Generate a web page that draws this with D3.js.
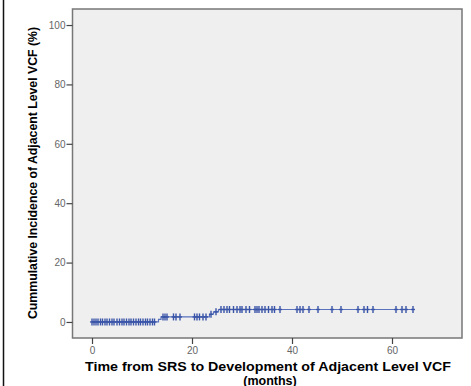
<!DOCTYPE html>
<html>
<head>
<meta charset="utf-8">
<script src="https://cdn.jsdelivr.net/npm/d3@7"></script>
<style>
  body { margin: 0; background: #fff; }
  svg { display: block; }
</style>
</head>
<body>
<div id="chart"></div>
<script>
// cumulative incidence steps (month, %)
const eventTimes = [0, 13.3, 13.8, 23.5, 24.3, 25.3];
const eventIncidence = [0, 0.9, 1.7, 2.6, 3.4, 4.2];
const lastFollowUp = 64.2;

// censored observations (months)
const censorTimes = [
  0, 0.4, 0.8, 1.2, 1.7, 2.1, 2.6, 3.0, 3.5, 4.0, 4.4, 5.0, 5.5, 6.0, 6.4, 6.9,
  7.4, 7.8, 8.3, 8.8, 9.3, 9.7, 10.2, 10.7, 11.1, 11.6, 12.1, 12.5,
  14.2, 14.6, 15.0, 16.3, 16.8, 17.6, 20.5, 21.0, 21.5, 22.2, 22.8,
  23.8, 24.8,
  25.8, 26.4, 27.0, 27.5, 28.3, 29.0, 29.6, 30.0, 30.8, 31.5, 32.6, 33.0, 33.4,
  34.0, 34.6, 35.3, 36.0, 36.5, 37.6, 41.0, 41.6, 42.2, 43.4, 45.2, 48.0, 49.8,
  53.2, 54.4, 55.1, 56.2, 60.8, 62.0, 62.8, 64.2
];

const xTicks = [0, 20, 40, 60];
const yTicks = [0, 20, 40, 60, 80, 100];

const width = 471, height = 386;
const margin = { top: 9, right: 9, bottom: 48, left: 72.5 };

const svg = d3.select('#chart').append('svg')
  .attr('width', width)
  .attr('height', height);

// outer frame line on the left
svg.append('line')
  .attr('x1', 3.5).attr('x2', 3.5)
  .attr('y1', 0).attr('y2', height)
  .attr('stroke', '#111').attr('stroke-width', 1.5);

const x = d3.scaleLinear()
  .domain([-3.9, 74])
  .range([margin.left, width - margin.right]);

const y = d3.scaleLinear()
  .domain([-5.4, 105.4])
  .range([height - margin.bottom, margin.top]);

// plot background
svg.append('rect')
  .attr('x', x.range()[0]).attr('y', y.range()[1])
  .attr('width', x.range()[1] - x.range()[0])
  .attr('height', y.range()[0] - y.range()[1])
  .attr('fill', '#efefef')
  .attr('stroke', '#777')
  .attr('stroke-width', 1.5);

const xAxis = svg.append('g')
  .attr('transform', `translate(0,${y.range()[0]})`)
  .call(d3.axisBottom(x).tickValues(xTicks).tickSize(6).tickPadding(3));

const yAxis = svg.append('g')
  .attr('transform', `translate(${x.range()[0]},0)`)
  .call(d3.axisLeft(y).tickValues(yTicks).tickSize(6).tickPadding(1));

[xAxis, yAxis].forEach(g => {
  g.select('.domain').remove();
  g.selectAll('.tick line').attr('stroke', '#444').attr('stroke-width', 1.2);
  g.selectAll('.tick text')
    .attr('fill', '#666')
    .style('font-family', 'Liberation Sans, Arial, sans-serif')
    .style('font-size', '10px');
});

// step line
const stepPts = eventTimes.map((t, i) => [t, eventIncidence[i]]);
stepPts.push([lastFollowUp, eventIncidence[eventIncidence.length - 1]]);

const line = d3.line()
  .x(d => x(d[0]))
  .y(d => y(d[1]))
  .curve(d3.curveStepAfter);

svg.append('path')
  .datum(stepPts)
  .attr('d', line)
  .attr('fill', 'none')
  .attr('stroke', '#5a72bd')
  .attr('stroke-width', 1.2);

const incidenceAt = t => {
  let v = 0;
  eventTimes.forEach((et, i) => { if (et <= t) v = eventIncidence[i]; });
  return v;
};

// censor marks
const marks = svg.append('g')
  .attr('stroke', '#3a55a8')
  .attr('stroke-width', 1.4);

censorTimes.forEach(t => {
  const cx = x(t), cy = y(incidenceAt(t));
  marks.append('line')
    .attr('x1', cx).attr('x2', cx)
    .attr('y1', cy - 3.5).attr('y2', cy + 3.5);
  marks.append('line')
    .attr('x1', cx - 2).attr('x2', cx + 2)
    .attr('y1', cy).attr('y2', cy);
});

// axis titles
svg.append('text')
  .attr('x', 268).attr('y', 371)
  .attr('text-anchor', 'middle')
  .attr('textLength', 366)
  .attr('lengthAdjust', 'spacingAndGlyphs')
  .style('font-family', 'Liberation Sans, Arial, sans-serif')
  .style('font-weight', 'bold')
  .style('font-size', '13.5px')
  .text('Time from SRS to Development of Adjacent Level VCF');

svg.append('text')
  .attr('x', 270).attr('y', 384.5)
  .attr('text-anchor', 'middle')
  .style('font-family', 'Liberation Sans, Arial, sans-serif')
  .style('font-weight', 'bold')
  .style('font-size', '12.5px')
  .text('(months)');

svg.append('text')
  .attr('transform', 'translate(37,173) rotate(-90)')
  .attr('text-anchor', 'middle')
  .attr('textLength', 292)
  .attr('lengthAdjust', 'spacingAndGlyphs')
  .style('font-family', 'Liberation Sans, Arial, sans-serif')
  .style('font-weight', 'bold')
  .style('font-size', '12px')
  .text('Cummulative Incidence of Adjacent Level VCF (%)');
</script>
</body>
</html>
